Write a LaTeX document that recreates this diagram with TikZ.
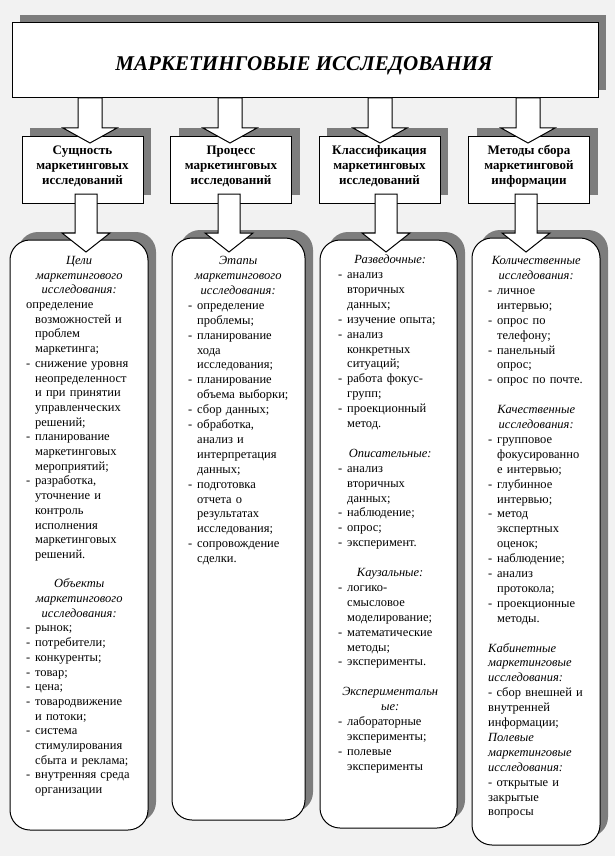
\documentclass[tikz,border=0pt]{standalone}
\usepackage{fontspec}
\setmainfont{Liberation Serif}
\usetikzlibrary{shadows,calc}
\definecolor{bgc}{RGB}{242,242,242}
\definecolor{shd}{RGB}{125,125,125}
\setlength{\parindent}{0pt}
\newcommand\HL[1]{\strut\makebox[\hsize][c]{\itshape #1}}
\newcommand\DL[1]{\strut\makebox[9pt][l]{-}\mbox{#1}}
\newcommand\CL[1]{\strut\hspace*{9pt}\mbox{#1}}
\newcommand\PL[1]{\strut\mbox{#1}}
\newcommand\IL[1]{\strut\mbox{\itshape #1}}
\newcommand\blockarrow[5]{%
  \draw[fill=white, line width=1pt, line join=miter] let \p1=(#1), \p2=(#2) in
    (\x1-#3,\y1) -- (\x1-#3,\y2+#5) -- (\x1-#4,\y2+#5) -- (\x1,\y2)
    -- (\x1+#4,\y2+#5) -- (\x1+#3,\y2+#5) -- (\x1+#3,\y1) -- cycle;}
\begin{document}
\begin{tikzpicture}[x=1pt,y=-1pt,
  sh/.style={drop shadow={shadow xshift=8pt, shadow yshift=8pt, opacity=1, fill=shd}},
  titlebox/.style={draw, line width=1pt, fill=white, sh, inner sep=0pt},
  hdrbox/.style={draw, line width=1pt, fill=white, sh, inner sep=0pt, minimum width=121pt, minimum height=67pt},
  bigbox/.style={draw, line width=1pt, fill=white, sh, rounded corners=20pt, inner sep=0pt},
  hdrtext/.style={align=center, inner sep=0pt, font=\bfseries\fontsize{13}{15}\selectfont},
  txt/.style={anchor=north west, inner sep=0pt, align=left, font=\fontsize{12.5}{14.9}\selectfont}]
\useasboundingbox (0,0) rectangle (615,856);
\fill[bgc] (0,0) rectangle (615,856);

% title
\node[titlebox, minimum width=586pt, minimum height=75pt] (title) at (305,60.5) {};
\node[font=\bfseries\itshape\fontsize{21}{25}\selectfont, inner sep=0pt] (titletext) at (304,66) {МАРКЕТИНГОВЫЕ ИССЛЕДОВАНИЯ};

% header boxes
\node[hdrbox] (h1) at (82.5,169.5) {};
\node[hdrbox] (h2) at (231,169.5) {};
\node[hdrbox] (h3) at (379.5,169.5) {};
\node[hdrbox] (h4) at (529,169.5) {};
\node[hdrtext] (h1t) at (82.5,166) {Сущность\\маркетинговых\\исследований};
\node[hdrtext] (h2t) at (231,166) {Процесс\\маркетинговых\\исследований};
\node[hdrtext] (h3t) at (379.5,166) {Классификация\\маркетинговых\\исследований};
\node[hdrtext] (h4t) at (529,166) {Методы сбора\\маркетинговой\\информации};

% big boxes
\node[bigbox, minimum width=138pt, minimum height=590pt] (b1) at (79,535) {};
\node[bigbox, minimum width=133pt, minimum height=582pt] (b2) at (238.5,529) {};
\node[bigbox, minimum width=137pt, minimum height=588pt] (b3) at (388.5,534) {};
\node[bigbox, minimum width=128pt, minimum height=607pt] (b4) at (536,541.5) {};

% arrows title -> headers
\coordinate (u1s) at (90,98);   \coordinate (u1e) at (90,143);
\coordinate (u2s) at (230,98);  \coordinate (u2e) at (230,143);
\coordinate (u3s) at (380,98);  \coordinate (u3e) at (380,143);
\coordinate (u4s) at (528,98);  \coordinate (u4e) at (528,143);
\blockarrow{u1s}{u1e}{12pt}{27pt}{15pt}
\blockarrow{u2s}{u2e}{12pt}{27pt}{15pt}
\blockarrow{u3s}{u3e}{12pt}{27pt}{15pt}
\blockarrow{u4s}{u4e}{12pt}{27pt}{15pt}

% arrows headers -> big boxes
\coordinate (l1s) at (86,194);  \coordinate (l1e) at (86,252);
\coordinate (l2s) at (229,194); \coordinate (l2e) at (229,252);
\coordinate (l3s) at (386,194); \coordinate (l3e) at (386,252);
\coordinate (l4s) at (526,194); \coordinate (l4e) at (526,252);
\blockarrow{l1s}{l1e}{11pt}{24pt}{19pt}
\blockarrow{l2s}{l2e}{11pt}{24pt}{19pt}
\blockarrow{l3s}{l3e}{11pt}{24pt}{19pt}
\blockarrow{l4s}{l4e}{11pt}{24pt}{19pt}

% texts
\node[txt, text width=106pt, font=\fontsize{12.5}{14.7}\selectfont] (t1) at (26,254) {%
\HL{Цели}\\
\HL{маркетингового}\\
\HL{исследования:}\\
\PL{определение}\\
\CL{возможностей и}\\
\CL{проблем}\\
\CL{маркетинга;}\\
\DL{снижение уровня}\\
\CL{неопределенност}\\
\CL{и при принятии}\\
\CL{управленческих}\\
\CL{решений;}\\
\DL{планирование}\\
\CL{маркетинговых}\\
\CL{мероприятий;}\\
\DL{разработка,}\\
\CL{уточнение и}\\
\CL{контроль}\\
\CL{исполнения}\\
\CL{маркетинговых}\\
\CL{решений.}\\
\strut\\
\HL{Объекты}\\
\HL{маркетингового}\\
\HL{исследования:}\\
\DL{рынок;}\\
\DL{потребители;}\\
\DL{конкуренты;}\\
\DL{товар;}\\
\DL{цена;}\\
\DL{товародвижение}\\
\CL{и потоки;}\\
\DL{система}\\
\CL{стимулирования}\\
\CL{сбыта и реклама;}\\
\DL{внутренняя среда}\\
\CL{организации}};

\node[txt, text width=100pt] (t2) at (188,254) {%
\HL{Этапы}\\
\HL{маркетингового}\\
\HL{исследования:}\\
\DL{определение}\\
\CL{проблемы;}\\
\DL{планирование}\\
\CL{хода}\\
\CL{исследования;}\\
\DL{планирование}\\
\CL{объема выборки;}\\
\DL{сбор данных;}\\
\DL{обработка,}\\
\CL{анализ и}\\
\CL{интерпретация}\\
\CL{данных;}\\
\DL{подготовка}\\
\CL{отчета о}\\
\CL{результатах}\\
\CL{исследования;}\\
\DL{сопровождение}\\
\CL{сделки.}};

\node[txt, text width=104pt] (t3) at (338,253) {%
\HL{Разведочные:}\\
\DL{анализ}\\
\CL{вторичных}\\
\CL{данных;}\\
\DL{изучение опыта;}\\
\DL{анализ}\\
\CL{конкретных}\\
\CL{ситуаций;}\\
\DL{работа фокус-}\\
\CL{групп;}\\
\DL{проекционный}\\
\CL{метод.}\\
\strut\\
\HL{Описательные:}\\
\DL{анализ}\\
\CL{вторичных}\\
\CL{данных;}\\
\DL{наблюдение;}\\
\DL{опрос;}\\
\DL{эксперимент.}\\
\strut\\
\HL{Каузальные:}\\
\DL{логико-}\\
\CL{смысловое}\\
\CL{моделирование;}\\
\DL{математические}\\
\CL{методы;}\\
\DL{эксперименты.}\\
\strut\\
\HL{Экспериментальн}\\
\HL{ые:}\\
\DL{лабораторные}\\
\CL{эксперименты;}\\
\DL{полевые}\\
\CL{эксперименты}};

\node[txt, text width=96pt] (t4) at (488,254) {%
\HL{Количественные}\\
\HL{исследования:}\\
\DL{личное}\\
\CL{интервью;}\\
\DL{опрос по}\\
\CL{телефону;}\\
\DL{панельный}\\
\CL{опрос;}\\
\DL{опрос по почте.}\\
\strut\\
\HL{Качественные}\\
\HL{исследования:}\\
\DL{групповое}\\
\CL{фокусированно}\\
\CL{е интервью;}\\
\DL{глубинное}\\
\CL{интервью;}\\
\DL{метод}\\
\CL{экспертных}\\
\CL{оценок;}\\
\DL{наблюдение;}\\
\DL{анализ}\\
\CL{протокола;}\\
\DL{проекционные}\\
\CL{методы.}\\
\strut\\
\IL{Кабинетные}\\
\IL{маркетинговые}\\
\IL{исследования:}\\
\PL{- сбор внешней и}\\
\PL{внутренней}\\
\PL{информации;}\\
\IL{Полевые}\\
\IL{маркетинговые}\\
\IL{исследования:}\\
\PL{- открытые и}\\
\PL{закрытые}\\
\PL{вопросы}};
\end{tikzpicture}
\end{document}
